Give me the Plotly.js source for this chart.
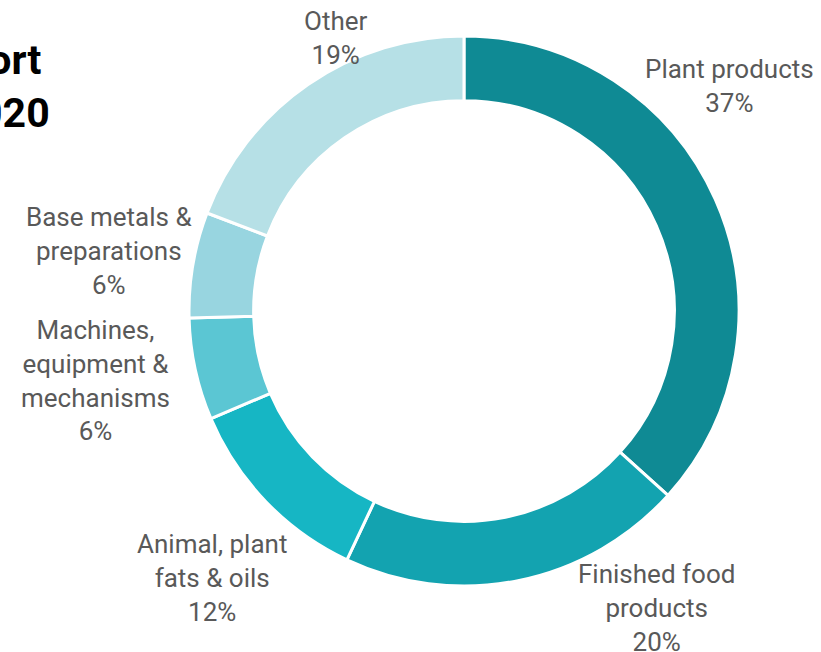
<!DOCTYPE html>
<html>
<head>
<meta charset="utf-8">
<script src="https://cdn.plot.ly/plotly-3.0.1.min.js"></script>
<style>html,body{margin:0;padding:0;background:#fff;}#chart{width:821px;height:652px;}</style>
</head>
<body>
<div id="chart"></div>
<script>
const categories = ["Plant products", "Finished food<br>products", "Animal, plant<br>fats & oils", "Machines,<br>equipment &<br>mechanisms", "Base metals &<br>preparations", "Other"];
const shares = [36.7, 20.3, 11.6, 6.0, 6.2, 19.2];
const sliceColors = ["#0f8a94", "#13a3b0", "#16b6c4", "#5bc6d3", "#98d5e0", "#b6e0e6"];
const chartTitle = "Ukraine's export\u2009<br>in 2020";
// label anchor positions (paper fractions) for each category
const labelX = [0.889, 0.800, 0.258, 0.116, 0.133, 0.409];
const labelY = [0.868, 0.067, 0.113, 0.417, 0.615, 0.942];

const total = shares.reduce((a, b) => a + b, 0);

const trace = {
  type: "pie",
  labels: categories,
  values: shares,
  sort: false,
  direction: "clockwise",
  rotation: 0,
  hole: 0.765,
  marker: {colors: sliceColors, line: {color: "#ffffff", width: 3}},
  textinfo: "none",
  hoverinfo: "label+percent",
  automargin: false,
  showlegend: false,
  domain: {x: [0.2302, 0.9001], y: [0.1012, 0.9448]}
};

const annotations = categories.map((c, i) => ({
  xref: "paper", yref: "paper",
  x: labelX[i], y: labelY[i],
  xanchor: "center", yanchor: "middle",
  align: "center",
  showarrow: false,
  text: c + "<br>" + Math.round(shares[i] / total * 100) + "%",
  font: {family: "Roboto, sans-serif", size: 26, color: "#595959"}
}));

const layout = {
  width: 821, height: 652,
  margin: {l: 0, r: 0, t: 0, b: 0},
  paper_bgcolor: "#ffffff",
  showlegend: false,
  annotations: annotations,
  title: {
    text: chartTitle,
    font: {family: "Roboto, Arial, sans-serif", size: 41, color: "#000000", weight: "bold"},
    xref: "container", x: 0.0605, xanchor: "right",
    yref: "container", y: 0.887, yanchor: "top"
  }
};

Plotly.newPlot("chart", [trace], layout, {displayModeBar: false, staticPlot: true});
</script>
</body>
</html>
